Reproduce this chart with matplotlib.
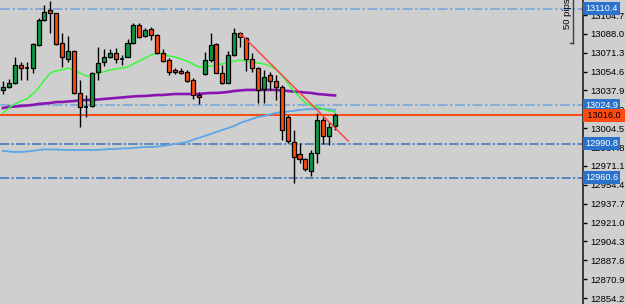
import matplotlib
matplotlib.use('Agg')
import matplotlib.pyplot as plt
import matplotlib.transforms as mtransforms
import numpy as np

plt.rcParams['font.family'] = ['Liberation Sans', 'DejaVu Sans']

# OHLC (57 bars)
opens = [13038.4, 13041.0, 13044.5, 13060.5, 13057.8, 13057.8, 13078.2, 13100.3, 13109.2, 13106.5,
         13079.9, 13065.8, 13072.9, 13035.7, 13023.3, 13024.2, 13054.3, 13063.1, 13067.6, 13071.1,
         13066.2, 13067.6, 13079.9, 13095.9, 13086.1, 13092.3, 13087.0, 13071.1, 13064.9, 13056.1,
         13055.2, 13054.3, 13047.2, 13033.9, 13052.5, 13064.9, 13079.1, 13053.4, 13044.5, 13069.3,
         13088.8, 13084.4, 13065.8, 13057.8, 13039.2, 13051.6, 13046.3, 13041.0, 13014.5, 12992.3,
         12981.7, 12977.3, 12966.7, 12982.6, 13011.8, 12997.6, 13006.5]
highs = [13046.3, 13048.1, 13067.6, 13063.1, 13063.1, 13079.9, 13102.1, 13113.6, 13117.1, 13106.5,
         13088.8, 13086.1, 13073.8, 13047.2, 13033.9, 13054.3, 13076.4, 13074.6, 13074.6, 13075.5,
         13069.3, 13083.5, 13097.6, 13097.6, 13093.2, 13094.1, 13087.9, 13074.6, 13066.7, 13057.8,
         13057.8, 13056.1, 13049.0, 13036.6, 13072.0, 13088.8, 13079.9, 13060.5, 13072.9, 13093.2,
         13089.7, 13085.3, 13071.1, 13058.7, 13056.1, 13054.3, 13051.6, 13042.8, 13016.2, 13003.0,
         12991.4, 12978.2, 12985.3, 13018.0, 13014.5, 13010.0, 13018.0]
lows = [13034.8, 13040.1, 13043.7, 13047.2, 13047.2, 13053.4, 13077.3, 13099.4, 13088.8, 13078.2,
        13058.7, 13063.1, 13034.8, 13005.6, 13014.5, 13023.3, 13047.2, 13059.6, 13066.7, 13062.2,
        13060.5, 13067.6, 13079.1, 13084.4, 13085.3, 13082.6, 13070.2, 13063.1, 13051.6, 13052.5,
        13052.5, 13045.4, 13030.4, 13026.0, 13051.6, 13063.1, 13053.4, 13043.7, 13044.5, 13068.4,
        13076.4, 13055.2, 13054.3, 13026.8, 13026.8, 13038.4, 13029.5, 12994.1, 12991.4, 12956.2,
        12973.7, 12966.7, 12962.2, 12973.7, 12990.6, 12989.7, 13003.0]
closes = [13041.0, 13044.5, 13060.5, 13057.8, 13057.8, 13079.1, 13100.3, 13107.4, 13106.5, 13079.1,
          13067.6, 13072.9, 13035.7, 13023.3, 13023.3, 13053.4, 13062.2, 13067.6, 13071.1, 13065.8,
          13066.2, 13079.9, 13095.9, 13085.3, 13091.5, 13087.0, 13071.1, 13064.0, 13054.3, 13054.3,
          13053.4, 13046.3, 13033.9, 13032.2, 13064.9, 13078.2, 13053.4, 13044.5, 13069.3, 13088.8,
          13085.3, 13065.8, 13057.8, 13038.4, 13049.9, 13046.3, 13041.0, 13003.0, 12993.2, 12979.1,
          12977.3, 12968.4, 12982.6, 13011.8, 12997.6, 13005.6, 13016.0]

# moving averages, one value per bar
ma_fast = [13018.0, 13022.4, 13026.0, 13028.6, 13030.4, 13034.8, 13040.1, 13047.2, 13053.4, 13055.2,
           13056.1, 13057.8, 13056.1, 13053.4, 13050.7, 13050.7, 13053.4, 13054.3, 13056.1, 13056.9,
           13057.8, 13058.7, 13061.4, 13064.0, 13066.7, 13069.3, 13071.1, 13070.2, 13068.4, 13067.6,
           13065.8, 13064.0, 13061.4, 13058.7, 13058.7, 13059.6, 13060.5, 13061.4, 13063.1, 13064.0,
           13064.9, 13064.0, 13063.1, 13062.2, 13061.4, 13059.6, 13056.9, 13051.6, 13044.5, 13037.5,
           13032.2, 13026.8, 13024.2, 13023.3, 13021.5, 13019.8, 13018.9]
ma_mid = [13022.4, 13023.3, 13023.7, 13024.2, 13024.6, 13025.1, 13026.0, 13026.4, 13026.8, 13027.7,
          13027.7, 13028.2, 13028.6, 13029.1, 13029.5, 13029.5, 13029.9, 13030.4, 13030.8, 13031.3,
          13031.7, 13032.2, 13032.6, 13033.0, 13033.0, 13033.5, 13033.9, 13033.9, 13034.4, 13034.8,
          13034.8, 13034.8, 13034.8, 13034.8, 13035.3, 13035.7, 13035.7, 13036.1, 13036.6, 13037.5,
          13037.9, 13038.4, 13038.4, 13038.4, 13038.4, 13038.4, 13038.4, 13037.9, 13037.5, 13037.0,
          13036.6, 13036.1, 13035.7, 13034.8, 13034.4, 13033.9, 13033.5]
ma_slow = [12984.4, 12983.9, 12983.5, 12983.5, 12983.9, 12984.4, 12985.3, 12985.7, 12985.7, 12985.7,
           12985.3, 12985.3, 12985.3, 12985.3, 12985.3, 12985.3, 12985.3, 12985.7, 12986.1, 12986.1,
           12986.6, 12986.6, 12987.0, 12987.5, 12987.9, 12987.9, 12988.3, 12988.8, 12989.7, 12990.6,
           12991.4, 12992.3, 12994.1, 12995.9, 12997.6, 12999.4, 13001.2, 13003.0, 13004.7, 13006.5,
           13009.1, 13010.9, 13012.7, 13014.5, 13015.3, 13016.7, 13018.0, 13018.9, 13019.3, 13019.8,
           13020.7, 13021.1, 13021.5, 13021.5, 13021.5, 13021.1, 13020.7]

# trendline (bar index, price)
trend_x = [40.1, 58.2]
trend_y = [13087.9, 12993.2]

# horizontal levels
level_lines = [13110.4, 13024.9]
level_lines_dark = [12990.8, 12960.6]
current_price = 13016.0
teal_level = 13017.3

ytick_vals = [13104.7, 13088.0, 13071.3, 13054.6, 13037.9, 13021.2, 13004.5, 12987.8,
              12971.1, 12954.4, 12937.7, 12921.0, 12904.3, 12887.6, 12870.9, 12854.2]

bg = '#cfcfcf'
up_col = '#109a48'
dn_col = '#ff4a12'
dash = (0, (6, 1.5, 1.5, 1.5))

fig = plt.figure(figsize=(6.25, 3.04), dpi=100, facecolor=bg)
ax = fig.add_axes([0, 0, 583 / 625, 1])
ax.set_facecolor(bg)

x = np.arange(len(opens))
o = np.array(opens); h = np.array(highs); l = np.array(lows); c = np.array(closes)

# horizontal level lines
for lv in level_lines:
    ax.axhline(lv, color='#78a8da', lw=1.2, linestyle=dash, zorder=1)
for lv in level_lines_dark:
    ax.axhline(lv, color='#3a72bc', lw=1.1, linestyle=dash, zorder=1)
ax.axhline(teal_level, color='#94d4ae', lw=1.0, zorder=1)
ax.axhline(current_price, color='#ff4a12', lw=1.4, zorder=1)

# moving averages
ax.plot(x, ma_slow, color='#5aa6e6', lw=1.3, zorder=2)
ax.plot(x, ma_mid, color='#8a14b0', lw=1.9, zorder=2)
ax.plot(x, ma_fast, color='#2bff2b', lw=1.0, zorder=2)

# candles
ax.vlines(x, l, h, color='black', lw=1.0, zorder=3)
body_lo = np.minimum(o, c)
body_h = np.abs(c - o)
colors = [up_col if cc > oo else dn_col for oo, cc in zip(o, c)]
for i in range(len(x)):
    if body_h[i] < 0.5:
        ax.hlines(o[i], x[i] - 0.35, x[i] + 0.35, color='black', lw=1.2, zorder=4)
    else:
        ax.bar(x[i], body_h[i], bottom=body_lo[i], width=0.68, color=colors[i],
               edgecolor='black', linewidth=0.9, zorder=4)

# trendline
ax.plot(trend_x, trend_y, color='#ff3a3a', lw=1.0, zorder=5)

ax.set_xlim(-0.5, 97.8)
ax.set_ylim(12848.9, 13118.0)

for s in ['left', 'top', 'bottom']:
    ax.spines[s].set_visible(False)
ax.spines['right'].set_color('#202020')
ax.spines['right'].set_linewidth(1.2)
ax.set_xticks([])
ax.yaxis.tick_right()
ax.set_yticks(ytick_vals)
ax.set_yticklabels([f'{v:.1f}' for v in ytick_vals])
ax.tick_params(axis='y', length=3, width=1, color='black', labelsize=6.8, pad=2, labelcolor='black')

# price labels on the scale
trans = mtransforms.blended_transform_factory(ax.transAxes, ax.transData)
for lv in level_lines + level_lines_dark:
    ax.text(1.004, lv, f'{lv:.1f}', transform=trans, fontsize=6.6, color='white', va='center',
            ha='left', clip_on=False, zorder=10,
            bbox=dict(boxstyle='square,pad=0.2', fc='#2a72cc', ec='none'))
ax.text(1.004, current_price, f' {current_price:.1f} ', transform=trans, fontsize=6.6, color='black',
        va='center', ha='left', clip_on=False, zorder=10,
        bbox=dict(boxstyle='square,pad=0.2', fc='#ff4a12', ec='none'))

# "50 pips" ruler
fig.text(567 / 625, 1 - 14 / 304, '50 pips', rotation=90, fontsize=6.8, ha='center', va='center')
fig.add_artist(plt.Line2D([573 / 625, 573 / 625], [1.0, 1 - 43 / 304], color='#404040', lw=1))
fig.add_artist(plt.Line2D([570 / 625, 573 / 625], [1 - 43 / 304, 1 - 43 / 304], color='#404040', lw=1))

fig.savefig('out.png', dpi=100, facecolor=bg)
